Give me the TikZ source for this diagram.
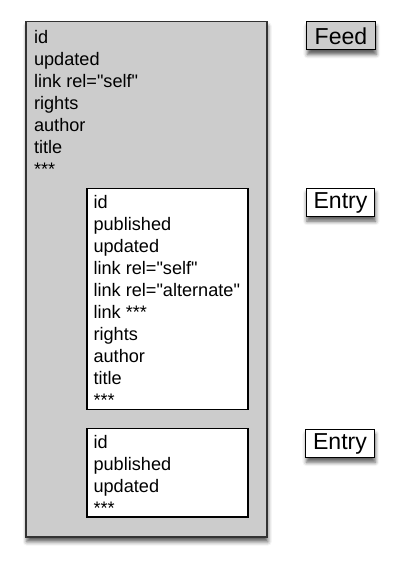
\documentclass[tikz,border=0pt]{standalone}
\usepackage{fontspec}
\setmainfont{Liberation Sans}
\usetikzlibrary{shadows.blur}
\definecolor{boxgray}{HTML}{CCCCCC}
\definecolor{edgegray}{HTML}{333333}
\newcommand{\qt}{\textquotedbl}
\tikzset{
  fields/.style={anchor=north west, inner sep=0pt, align=left,
    font=\fontsize{13.6}{16.5}\selectfont},
  softshadow/.style={blur shadow={shadow xshift=0.6pt, shadow yshift=-3.5pt,
    shadow blur radius=3pt, shadow opacity=65}},
  tag/.style={draw=black, line width=0.9pt, minimum width=51.5pt,
    minimum height=21pt, inner sep=0pt, font=\fontsize{17.3}{20}\selectfont,
    softshadow}
}
\begin{document}
\begin{tikzpicture}[x=0.75pt,y=-0.75pt]
  \useasboundingbox (0,0) rectangle (400,568);
  % feed box and its two entries
  \draw[line width=1pt, draw=edgegray, fill=boxgray, softshadow] (26,21.5) rectangle (267,537);
  \draw[line width=0.8pt, fill=white] (87,188.5) rectangle (248,409.5);
  \draw[line width=0.8pt, fill=white] (87,428.5) rectangle (248,517);
  \node[fields] (feedfields) at (33.8,30) {id\\updated\\link rel=\qt self\qt\\rights\\author\\title\\***};
  \node[fields] (entryfields1) at (93.3,195) {id\\published\\updated\\link rel=\qt self\qt\\link rel=\qt alternate\qt\\link ***\\rights\\author\\title\\***};
  \node[fields] (entryfields2) at (93.3,435) {id\\published\\updated\\***};
  % labels on the right
  \node[tag, fill=boxgray] (feedtag) at (341,35.8) {Feed};
  \node[tag, fill=white] (entrytag1) at (340.5,202.5) {Entry};
  \node[tag, fill=white] (entrytag2) at (340,443.5) {Entry};
\end{tikzpicture}
\end{document}
